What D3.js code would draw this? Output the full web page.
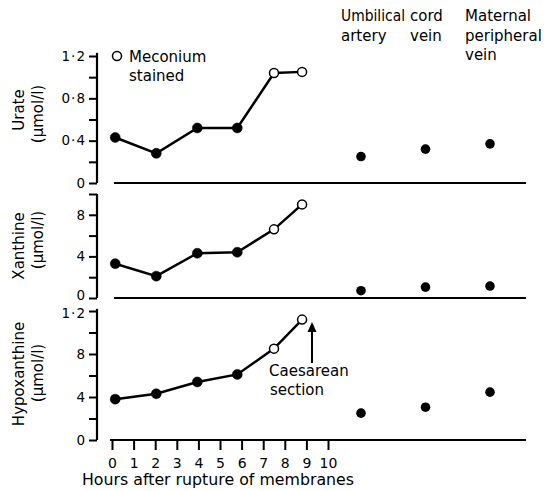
<!DOCTYPE html>
<html><head><meta charset="utf-8">
<script src="https://cdn.jsdelivr.net/npm/d3@7"></script>
<style>
body{margin:0;background:#fff;}
text{font-family:"DejaVu Sans",sans-serif;fill:#000;}
</style></head>
<body><svg id="c" width="553" height="491"></svg>
<script>
const hours = [0.15, 2.05, 3.95, 5.8, 7.5, 8.8];
const meconium = [false, false, false, false, true, true];
const urate = [0.43, 0.28, 0.52, 0.52, 1.04, 1.05];
const xanthine = [3.3, 2.1, 4.3, 4.4, 6.6, 9.0];
const hypoxanthine = [3.8, 4.3, 5.4, 6.1, 8.5, 11.2];
const sites = ["Umbilical artery", "cord vein", "Maternal peripheral vein"];
const siteLabels = [["Umbilical", "artery"], ["cord", "vein"], ["Maternal", "peripheral", "vein"]];
const urateSites = [0.25, 0.32, 0.37];
const xanthineSites = [0.7, 1.05, 1.15];
const hypoxanthineSites = [2.5, 3.05, 4.45];
const hourTicks = [0,1,2,3,4,5,6,7,8,9,10];
const urateTicks = [0, 0.4, 0.8, 1.2];
const urateMinor = [0.2, 0.6, 1.0];
const urateTickLabels = ["0", "0·4", "0·8", "1·2"];
const xanTicks = [0, 4, 8];
const xanMinor = [2, 6, 10];
const xanTickLabels = ["0", "4", "8"];
const hypTicks = [0, 4, 8, 12];
const hypMinor = [2, 6, 10];
const hypTickLabels = ["0", "4", "8", "1·2"];

const FONT = "DejaVu Sans, sans-serif";
const svg = d3.select("#c");
const x = d3.scaleLinear().domain([0, 10]).range([112, 328]);
const xs = d3.scalePoint().domain(sites).range([361, 490]);

const panels = [
  {name:"Urate", vals:urate, site:urateSites, y:d3.scaleLinear().domain([0,1.2]).range([183,56]),
   ticks:urateTicks, minor:urateMinor, labels:urateTickLabels, top:1.23, base0:114, t1:110, t2:114},
  {name:"Xanthine", vals:xanthine, site:xanthineSites, y:d3.scaleLinear().domain([0,10]).range([298,194]),
   ticks:xanTicks, minor:xanMinor, labels:xanTickLabels, top:10, base0:114, t1:246, t2:240},
  {name:"Hypoxanthine", vals:hypoxanthine, site:hypoxanthineSites, y:d3.scaleLinear().domain([0,12]).range([440,311]),
   ticks:hypTicks, minor:hypMinor, labels:hypTickLabels, top:12.2, base0:110, t1:374, t2:373}
];

panels.forEach((p, pi) => {
  const g = svg.append("g");
  g.append("line").attr("x1",97).attr("x2",97).attr("y1",p.y(p.top)).attr("y2",p.y(0))
    .attr("stroke","#000").attr("stroke-width",2.2);
  const ax = d3.axisLeft(p.y).tickValues(p.ticks).tickSize(8).tickPadding(3)
    .tickFormat((d,i)=>p.labels[i]);
  const ag = g.append("g").attr("transform","translate(97,0)").call(ax);
  ag.select(".domain").remove();
  ag.selectAll(".tick line").attr("stroke","#000").attr("stroke-width",2);
  ag.selectAll(".tick text").attr("font-size",13.5).attr("font-family",FONT).attr("letter-spacing",1)
    .attr("dy", (d,i) => {
      if (pi === 1 && i === 0) return "0.1em";
      if (pi === 2 && i === p.ticks.length - 1) return "0.45em";
      return "0.32em";
    });
  const axm = d3.axisLeft(p.y).tickValues(p.minor).tickSize(8).tickFormat("");
  const mg = g.append("g").attr("transform","translate(97,0)").call(axm);
  mg.select(".domain").remove();
  mg.selectAll(".tick line").attr("stroke","#000").attr("stroke-width",2);
  g.append("line").attr("x1",p.base0).attr("x2",526).attr("y1",p.y(0)).attr("y2",p.y(0))
    .attr("stroke","#000").attr("stroke-width",2.2);
  g.append("text").attr("transform",`translate(24,${p.t1}) rotate(-90)`)
    .attr("text-anchor","middle").attr("font-size",15).text(p.name);
  g.append("text").attr("transform",`translate(43,${p.t2}) rotate(-90)`)
    .attr("text-anchor","middle").attr("font-size",15).text("(μmol/l)");
  const line = d3.line().x((d,i)=>x(hours[i])).y(d=>p.y(d));
  g.append("path").datum(p.vals).attr("d",line).attr("fill","none")
    .attr("stroke","#000").attr("stroke-width",2.5);
  g.selectAll("circle.pt").data(p.vals).join("circle").attr("class","pt")
    .attr("cx",(d,i)=>x(hours[i])).attr("cy",d=>p.y(d)).attr("r",(d,i)=>meconium[i]?4.5:5)
    .attr("fill",(d,i)=>meconium[i]?"#fff":"#000").attr("stroke","#000").attr("stroke-width",(d,i)=>meconium[i]?1.5:0.5);
  g.selectAll("circle.site").data(p.site).join("circle").attr("class","site")
    .attr("cx",(d,i)=>xs(sites[i])).attr("cy",d=>p.y(d)).attr("r",4.8).attr("fill","#000");
});

const bottomY = panels[2].y(0);
const xa = d3.axisBottom(x).tickValues(hourTicks).tickSize(10).tickPadding(8).tickFormat(d3.format("d"));
const xg = svg.append("g").attr("transform",`translate(0,${bottomY})`).call(xa);
xg.select(".domain").remove();
xg.selectAll(".tick line").attr("stroke","#000").attr("stroke-width",2);
xg.selectAll(".tick text").attr("font-size",14).attr("font-family",FONT);
svg.append("text").attr("x",82).attr("y",485).attr("font-size",15)
  .attr("textLength",272).attr("lengthAdjust","spacingAndGlyphs")
  .text("Hours after rupture of membranes");

const siteX = [341, 410, 465];
siteLabels.forEach((ls,i)=>{
  ls.forEach((s,j)=>{
    const t = svg.append("text").attr("x",siteX[i]).attr("y",21+j*19.5).attr("font-size",15).text(s);
    if (s === "Umbilical") t.attr("textLength",64).attr("lengthAdjust","spacingAndGlyphs");
  });
});

svg.append("circle").attr("cx",117).attr("cy",56).attr("r",4.5).attr("fill","#fff").attr("stroke","#000").attr("stroke-width",1.5);
svg.append("text").attr("x",129).attr("y",62).attr("font-size",15).text("Meconium");
svg.append("text").attr("x",129).attr("y",81).attr("font-size",15).text("stained");

svg.append("line").attr("x1",312).attr("x2",312).attr("y1",330).attr("y2",363).attr("stroke","#000").attr("stroke-width",2);
svg.append("path").attr("d","M312,322 L307.5,332 L316.5,332 Z").attr("fill","#000");
svg.append("text").attr("x",269).attr("y",376).attr("font-size",15).text("Caesarean");
svg.append("text").attr("x",270).attr("y",395).attr("font-size",15).text("section");
</script></body></html>
